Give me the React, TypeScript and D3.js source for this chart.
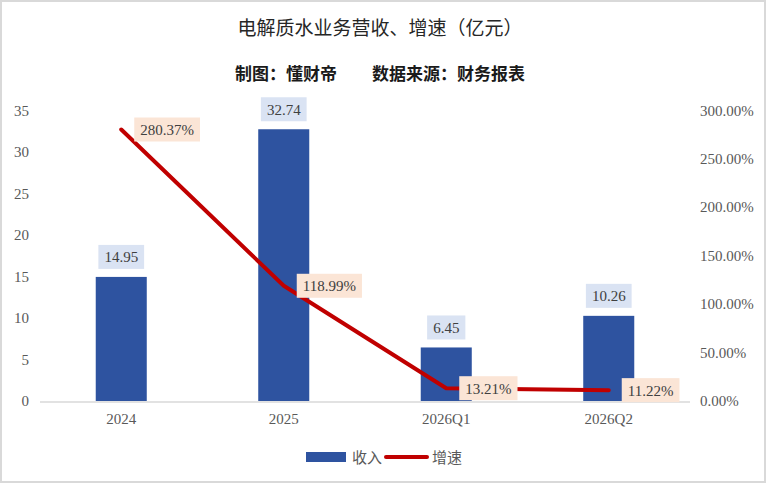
import React, { useRef, useEffect } from 'react';
import * as d3 from 'd3';

const categories = ['2024', '2025', '2026Q1', '2026Q2'];
const revenue = [14.95, 32.74, 6.45, 10.26];
const growth = [2.8037, 1.1899, 0.1321, 0.1122];
const leftTicks = [0, 5, 10, 15, 20, 25, 30, 35];
const rightTicks = [0, 0.5, 1, 1.5, 2, 2.5, 3];

const W = 768;
const H = 484;
const numFont = '"Liberation Serif", "DejaVu Serif", serif';
const cjkFont = '"Noto Sans CJK SC", sans-serif';

export default function App() {
  const svgRef = useRef<SVGSVGElement>(null);

  useEffect(() => {
    const svg = d3.select(svgRef.current);
    if (!svg.node()) return;
    svg.selectAll('*').remove();

    // outer frame
    svg.append('rect')
      .attr('x', 1).attr('y', 1).attr('width', W - 4).attr('height', H - 3)
      .attr('fill', '#fff').attr('stroke', '#d9d9d9').attr('stroke-width', 2);

    // titles
    svg.append('text')
      .attr('x', 380).attr('y', 35)
      .attr('text-anchor', 'middle')
      .attr('font-family', cjkFont).attr('font-size', 19)
      .attr('fill', '#262626')
      .text('电解质水业务营收、增速（亿元）');
    svg.append('text')
      .attr('x', 235).attr('y', 80)
      .attr('font-family', cjkFont).attr('font-size', 17).attr('font-weight', 'bold')
      .attr('fill', '#1a1a1a')
      .text('制图：懂财帝');
    svg.append('text')
      .attr('x', 372).attr('y', 80)
      .attr('font-family', cjkFont).attr('font-size', 17).attr('font-weight', 'bold')
      .attr('fill', '#1a1a1a')
      .text('数据来源：财务报表');

    const x = d3.scaleBand<string>().domain(categories).range([40, 690]);
    const yL = d3.scaleLinear().domain([0, 35]).range([401, 110.5]);
    const yR = d3.scaleLinear().domain([0, 3]).range([401, 110.5]);
    const barW = x.bandwidth() * 0.314;
    const cx = (c: string) => (x(c) ?? 0) + x.bandwidth() / 2;

    // left axis labels
    svg.append('g').selectAll('text').data(leftTicks).join('text')
      .attr('x', 29).attr('y', d => yL(d) + 5)
      .attr('text-anchor', 'end')
      .attr('font-family', numFont).attr('font-size', 15).attr('fill', '#595959')
      .text(d => d3.format('d')(d));

    // right axis labels
    svg.append('g').selectAll('text').data(rightTicks).join('text')
      .attr('x', 700).attr('y', d => yR(d) + 5)
      .attr('font-family', numFont).attr('font-size', 15).attr('fill', '#595959')
      .text(d => d3.format('.2%')(d));

    // bars
    svg.append('g').selectAll('rect').data(revenue).join('rect')
      .attr('x', (d, i) => cx(categories[i]) - barW / 2)
      .attr('y', d => yL(d))
      .attr('width', barW)
      .attr('height', d => yL(0) - yL(d))
      .attr('fill', '#2e53a0');

    // baseline
    svg.append('line')
      .attr('x1', 40).attr('x2', 690)
      .attr('y1', yL(0) + 1).attr('y2', yL(0) + 1)
      .attr('stroke', '#d9d9d9').attr('stroke-width', 1.5);

    // category labels
    svg.append('g').selectAll('text').data(categories).join('text')
      .attr('x', d => cx(d)).attr('y', 424)
      .attr('text-anchor', 'middle')
      .attr('font-family', numFont).attr('font-size', 15).attr('fill', '#595959')
      .text(d => d);

    // growth line
    const line = d3.line<number>()
      .x((d, i) => cx(categories[i]))
      .y(d => yR(d));
    svg.append('path')
      .attr('d', line(growth) || '')
      .attr('fill', 'none')
      .attr('stroke', '#c00000').attr('stroke-width', 4)
      .attr('stroke-linejoin', 'round').attr('stroke-linecap', 'round');

    // bar value labels
    revenue.forEach((v, i) => {
      const g = svg.append('g');
      const bx = cx(categories[i]);
      const boxBottom = yL(v) - 8;
      const bg = g.append('rect').attr('fill', '#dae3f3');
      const t = g.append('text')
        .attr('x', bx).attr('y', boxBottom - 12 + 5.5)
        .attr('text-anchor', 'middle')
        .attr('font-family', numFont).attr('font-size', 15).attr('fill', '#404040')
        .text(d3.format('.2f')(v));
      const w = (t.node() as SVGTextElement).getComputedTextLength() + 12;
      bg.attr('x', bx - w / 2).attr('y', boxBottom - 24).attr('width', w).attr('height', 24);
    });

    // growth value labels
    growth.forEach((v, i) => {
      const g = svg.append('g');
      const left = cx(categories[i]) + 13;
      const cy = yR(v);
      const bg = g.append('rect').attr('fill', '#fbe5d6');
      const t = g.append('text')
        .attr('x', left + 6).attr('y', cy + 5.5)
        .attr('font-family', numFont).attr('font-size', 15).attr('fill', '#404040')
        .text(d3.format('.2%')(v));
      const w = (t.node() as SVGTextElement).getComputedTextLength() + 12;
      bg.attr('x', left).attr('y', cy - 12).attr('width', w).attr('height', 24);
    });

    // legend
    const lg = svg.append('g');
    lg.append('rect').attr('x', 306).attr('y', 452).attr('width', 40).attr('height', 10).attr('fill', '#2e53a0');
    lg.append('text').attr('x', 352).attr('y', 462.5)
      .attr('font-family', cjkFont).attr('font-size', 15).attr('fill', '#595959').text('收入');
    lg.append('line').attr('x1', 386).attr('x2', 427).attr('y1', 457).attr('y2', 457)
      .attr('stroke', '#c00000').attr('stroke-width', 4).attr('stroke-linecap', 'round');
    lg.append('text').attr('x', 432).attr('y', 462.5)
      .attr('font-family', cjkFont).attr('font-size', 15).attr('fill', '#595959').text('增速');
  }, []);

  return (
    <svg
      ref={svgRef}
      width={W}
      height={H}
      style={{ position: 'absolute', left: 0, top: 0, background: '#fff' }}
    />
  );
}
